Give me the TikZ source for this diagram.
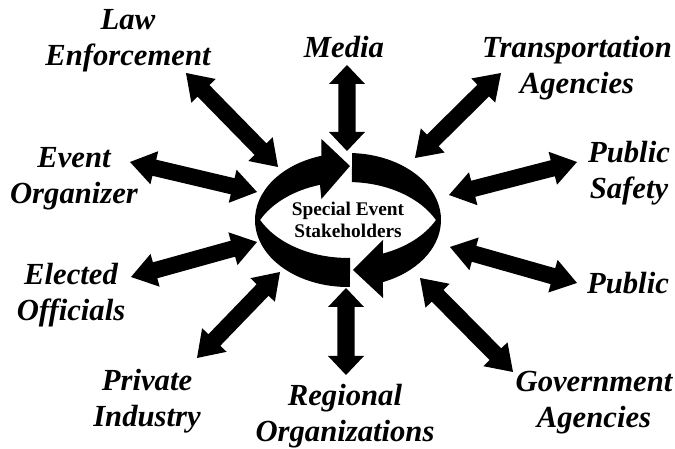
\documentclass[tikz,border=0pt]{standalone}
\usepackage{fontspec}
\setmainfont{Liberation Serif}
\usetikzlibrary{calc}

\begin{document}
\begin{tikzpicture}[x=0.75pt, y=0.75pt,
    party/.style={font=\fontsize{23}{27}\selectfont\bfseries\itshape, align=center, inner sep=0pt},
    % fat double-headed arrow: head length, head half width, shaft half width
    twoway/.style n args={3}{draw=none, fill, to path={
      -- ($(\tikztostart)!#1!(\tikztotarget)!#2!90:(\tikztotarget)$)
      -- ($(\tikztostart)!#1!(\tikztotarget)!#3!90:(\tikztotarget)$)
      -- ($(\tikztotarget)!#1!(\tikztostart)!#3!-90:(\tikztostart)$)
      -- ($(\tikztotarget)!#1!(\tikztostart)!#2!-90:(\tikztostart)$)
      -- (\tikztotarget)
      -- ($(\tikztotarget)!#1!(\tikztostart)!#2!90:(\tikztostart)$)
      -- ($(\tikztotarget)!#1!(\tikztostart)!#3!90:(\tikztostart)$)
      -- ($(\tikztostart)!#1!(\tikztotarget)!#3!-90:(\tikztotarget)$)
      -- ($(\tikztostart)!#1!(\tikztotarget)!#2!-90:(\tikztotarget)$)
      -- cycle}},
    slant/.style={twoway={18.75pt}{12.75pt}{6.2pt}},
    plumb/.style={twoway={14.25pt}{13.5pt}{6.4pt}}]
   \useasboundingbox (0,0) rectangle (675,449);

   % centres of the outer rim and of the two inner rims
   \coordinate (ctr) at (348,229);
   \coordinate (uc) at (348,199);
   \coordinate (lc) at (348,259);

   % left half of the ring, head at the top
   \fill ($(ctr)+(271.2:93 and 67)$)
      arc[start angle=271.2, end angle=106.6, x radius=93, y radius=67]
      -- (321.4,310) -- (350,283) -- (321.4,250)
      -- ($(uc)+(106.6:98 and 68)$)
      arc[start angle=106.6, end angle=153.8, x radius=98, y radius=68]
      arc[start angle=206.2, end angle=271.2, x radius=98, y radius=68]
      -- cycle;
   % right half of the ring, head at the bottom
   \fill ($(ctr)+(87.5:93 and 67)$)
      arc[start angle=87.5, end angle=-67.9, x radius=93, y radius=67]
      -- (383,151) -- (353,179) -- (383,209)
      -- ($(lc)+(-69.1:98 and 68)$)
      arc[start angle=-69.1, end angle=-26.2, x radius=98, y radius=68]
      arc[start angle=26.2, end angle=87.7, x radius=98, y radius=68]
      -- cycle;

   \node[font=\fontsize{14.5}{16.5}\selectfont\bfseries, align=center] (hub) at (ctr) {Special Event\\Stakeholders};

   \node[party] (law)     at (128,408) {Law\\Enforcement};
   \node[party] (media)   at (344,402) {Media};
   \node[party] (trans)   at (577,381) {Transportation\\Agencies};
   \node[party] (event)   at (74,270)  {Event\\Organizer};
   \node[party] (safety)  at (629,276) {Public\\Safety};
   \node[party] (elected) at (71,154)  {Elected\\Officials};
   \node[party] (public)  at (628,166) {Public};
   \node[party] (private) at (147,48)  {Private\\Industry};
   \node[party] (reg)     at (345,33)  {Regional\\Organizations};
   \node[party] (gov)     at (594,46)  {Government\\Agencies};

   % arrow ends: -o next to the label, -i next to the ring
   \coordinate (law-o) at (186,376);     \coordinate (law-i) at (278,282);
   \coordinate (media-o) at (347,384);   \coordinate (media-i) at (347,298);
   \coordinate (trans-o) at (501,376);   \coordinate (trans-i) at (415,291);
   \coordinate (event-o) at (130,287);   \coordinate (event-i) at (257,257);
   \coordinate (safety-o) at (577,287);  \coordinate (safety-i) at (449,254);
   \coordinate (elected-o) at (131,172); \coordinate (elected-i) at (257,207);
   \coordinate (public-o) at (577,166);  \coordinate (public-i) at (450,202);
   \coordinate (private-o) at (197,91);  \coordinate (private-i) at (280,177);
   \coordinate (reg-o) at (346,74);      \coordinate (reg-i) at (346,161);
   \coordinate (gov-o) at (513,77);      \coordinate (gov-i) at (420,171);

   \path
    (law-o) edge[slant] (law-i)
    (trans-o) edge[slant] (trans-i)
    (event-o) edge[slant] (event-i)
    (safety-o) edge[slant] (safety-i)
    (elected-o) edge[slant] (elected-i)
    (public-o) edge[slant] (public-i)
    (private-o) edge[slant] (private-i)
    (gov-o) edge[slant] (gov-i)
    (media-o) edge[plumb] (media-i)
    (reg-o) edge[plumb] (reg-i);
\end{tikzpicture}
\end{document}
